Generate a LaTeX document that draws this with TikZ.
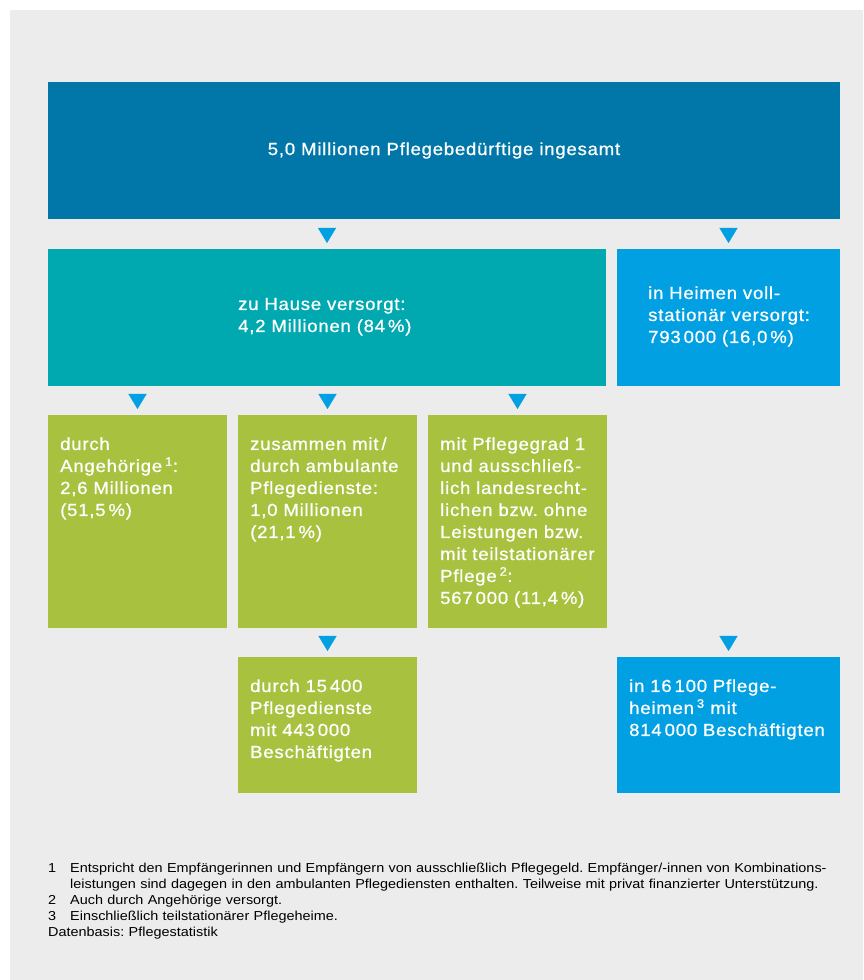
\documentclass[tikz,border=0pt]{standalone}
\usepackage{fontspec}
\setmainfont{Liberation Sans}
\newfontfamily\kastenfont{Liberation Sans}[LetterSpace=4.5, FakeStretch=1.06, FakeBold=0.8]
\newfontfamily\fussfont{Liberation Sans}[FakeStretch=1.11]
\usetikzlibrary{positioning,arrows.meta}
\definecolor{hintergrund}{HTML}{ECECEC}
\definecolor{dunkelblau}{HTML}{0077A8}
\definecolor{tuerkis}{HTML}{00A8B0}
\definecolor{hellblau}{HTML}{00A0E3}
\definecolor{gruen}{HTML}{A8C13F}
\frenchspacing

\tikzset{
  kasten/.style={rectangle, inner sep=0pt, outer sep=0pt, text=white,
    font=\kastenfont\fontsize{17.5}{22}\selectfont},
  kastentext/.style={inner sep=0pt, anchor=base west, text=white,
    align=left, text width=200pt, font=\kastenfont\fontsize{17.5}{22}\selectfont},
  pfeil/.style={draw=hellblau, line width=0.1pt,
    -{Triangle[length=15pt, width=18pt]}},
}

\begin{document}
\begin{tikzpicture}[x=1pt, y=1pt]
  \useasboundingbox (0,0) rectangle (863,980);
  \fill[white] (0,0) rectangle (863,980);
  \fill[hintergrund] (10,0) rectangle (863,970);

  % top row
  \node[kasten, fill=dunkelblau, minimum width=792pt, minimum height=137pt,
        anchor=north west] (gesamt) at (48,898)
        {5,0 Millionen Pflegebedürftige ingesamt};

  % second row: at home / in homes
  \node[kasten, fill=tuerkis, minimum width=558pt, minimum height=137pt,
        below right=30pt and 0pt of gesamt.south west] (zuhause) {};
  \node[kasten, fill=hellblau, minimum width=223pt, minimum height=137pt,
        below left=30pt and 0pt of gesamt.south east] (stationaer) {};

  % third row
  \node[kasten, fill=gruen, minimum width=179pt, minimum height=213pt,
        below right=29pt and 0pt of zuhause.south west] (angehoerige) {};
  \node[kasten, fill=gruen, minimum width=179pt, minimum height=213pt,
        right=11pt of angehoerige] (ambulant) {};
  \node[kasten, fill=gruen, minimum width=179pt, minimum height=213pt,
        right=11pt of ambulant] (pflegegrad) {};

  % bottom row
  \node[kasten, fill=gruen, minimum width=179pt, minimum height=136pt,
        below=29pt of ambulant] (dienste) {};
  \node[kasten, fill=hellblau, minimum width=223pt, minimum height=136pt,
        anchor=north west] (heime) at (stationaer.west |- dienste.north) {};

  % box texts
  \node[kastentext] (zuhause-t) at ([shift={(190,-61)}]zuhause.north west)
    {zu Hause versorgt:\\4,2 Millionen (84\,\%)};
  \node[kastentext] (stationaer-t) at ([shift={(31,-50)}]stationaer.north west)
    {in Heimen voll-\\stationär versorgt:\\793\,000 (16,0\,\%)};
  \node[kastentext] (angehoerige-t) at ([shift={(12,-35)}]angehoerige.north west)
    {durch\\Angehörige\,\textsuperscript{1}:\\2,6 Millionen\\(51,5\,\%)};
  \node[kastentext] (ambulant-t) at ([shift={(12,-35)}]ambulant.north west)
    {zusammen mit\,/\\durch ambulante\\Pflegedienste:\\1,0 Millionen\\(21,1\,\%)};
  \node[kastentext] (pflegegrad-t) at ([shift={(12,-35)}]pflegegrad.north west)
    {mit Pflegegrad 1\\und ausschließ-\\lich landesrecht-\\lichen bzw. ohne\\Leistungen bzw.\\mit teilstationärer\\Pflege\,\textsuperscript{2}:\\567\,000 (11,4\,\%)};
  \node[kastentext] (dienste-t) at ([shift={(12,-35)}]dienste.north west)
    {durch 15\,400\\Pflegedienste\\mit 443\,000\\Beschäftigten};
  \node[kastentext] (heime-t) at ([shift={(12,-35)}]heime.north west)
    {in 16\,100 Pflege-\\heimen\,\textsuperscript{3} mit\\814\,000 Beschäftigten};

  % arrows
  \draw[pfeil] ([yshift=-9pt]gesamt.south -| zuhause) -- ([yshift=6pt]zuhause.north);
  \draw[pfeil] ([yshift=-9pt]gesamt.south -| stationaer) -- ([yshift=6pt]stationaer.north);
  \draw[pfeil] ([yshift=-8pt]zuhause.south -| angehoerige) -- ([yshift=6pt]angehoerige.north);
  \draw[pfeil] ([yshift=-8pt]zuhause.south -| ambulant) -- ([yshift=6pt]ambulant.north);
  \draw[pfeil] ([yshift=-8pt]zuhause.south -| pflegegrad) -- ([yshift=6pt]pflegegrad.north);
  \draw[pfeil] ([yshift=-8pt]ambulant.south) -- ([yshift=6pt]dienste.north);
  \draw[pfeil] ([yshift=-8pt]pflegegrad.south -| heime) -- ([yshift=6pt]heime.north);

  % footnotes
  \node[inner sep=0pt, anchor=base west, align=left, text width=800pt,
        font=\fussfont\fontsize{13}{16}\selectfont] (fussnoten) at (48,107)
    {\makebox[22pt][l]{1}Entspricht den Empfängerinnen und Empfängern von ausschließlich Pflegegeld. Empfänger/-innen von Kombinations-\\
     \hspace*{22pt}leistungen sind dagegen in den ambulanten Pflegediensten enthalten. Teilweise mit privat finanzierter Unterstützung.\\
     \makebox[22pt][l]{2}Auch durch Angehörige versorgt.\\
     \makebox[22pt][l]{3}Einschließlich teilstationärer Pflegeheime.\\
     Datenbasis: Pflegestatistik};
\end{tikzpicture}
\end{document}
